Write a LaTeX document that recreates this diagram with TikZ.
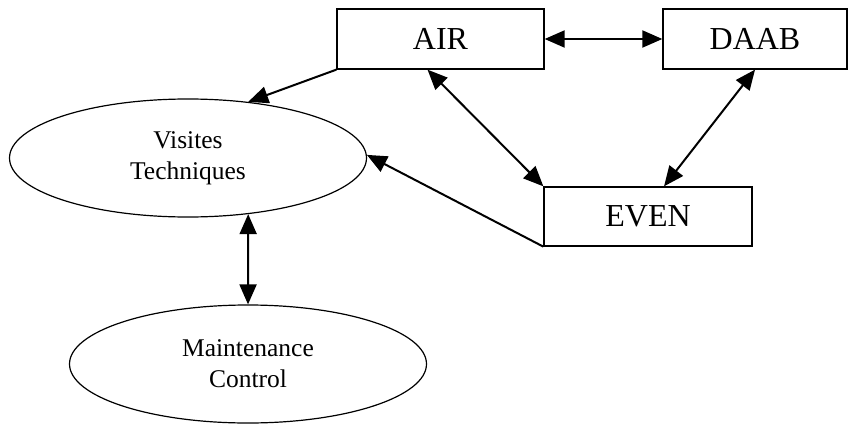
\documentclass[tikz,border=0pt]{standalone}
\usepackage{fontspec}
\setmainfont{Liberation Serif}
\usetikzlibrary{arrows.meta,shapes.geometric}
\begin{document}
\begin{tikzpicture}[x=1pt,y=-1pt,
  box/.style={draw,line width=1.3pt,inner sep=0pt,font=\fontsize{32}{38}\selectfont},
  oval/.style={draw,ellipse,line width=1.2pt,inner sep=0pt,minimum width=357pt,minimum height=118pt,align=center,font=\fontsize{25.5}{31}\selectfont},
  link/.style={line width=2pt,-{Triangle[length=20pt,width=17pt]}},
  dbl/.style={line width=2pt,{Triangle[length=20pt,width=17pt]}-{Triangle[length=20pt,width=17pt]}}]
\useasboundingbox (0,0) rectangle (861,425);
\node[box,minimum width=207pt,minimum height=60pt] (air) at (440.5,39) {AIR};
\node[box,minimum width=184pt,minimum height=60pt] (daab) at (755,39) {DAAB};
\node[box,minimum width=208pt,minimum height=59pt] (even) at (648,216.5) {EVEN};
\node[oval] (vis) at (188,158) {Visites\\Techniques};
\node[oval] (mc) at (248,364) {Maintenance\\Control};
\draw[dbl] (air.east) -- (daab.west);
\draw[link] (air.south west) -- (vis.43);
\draw[dbl] ([xshift=-13pt]air.south) -- (even.north west);
\draw[dbl] (daab.south) -- ([xshift=16pt]even.north);
\draw[link] (even.south west) -- (vis.1);
\draw[dbl] (vis.-43) -- (mc.north);
\end{tikzpicture}
\end{document}
